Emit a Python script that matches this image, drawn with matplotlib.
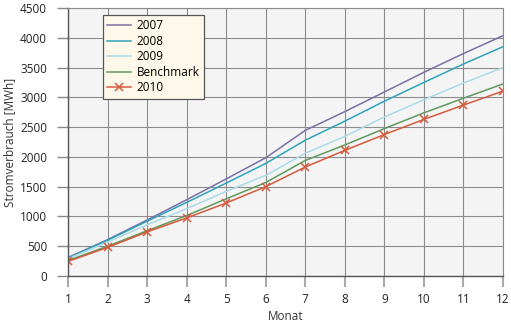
import matplotlib
matplotlib.use("Agg")
import matplotlib.pyplot as plt
import numpy as np

### data
monate = [1, 2, 3, 4, 5, 6, 7, 8, 9, 10, 11, 12]
v2007 = [310, 610, 940, 1280, 1630, 1985, 2445, 2760, 3090, 3420, 3735, 4035]
v2008 = [300, 600, 920, 1235, 1560, 1890, 2280, 2600, 2935, 3250, 3560, 3850]
v2009 = [290, 570, 860, 1130, 1420, 1690, 2060, 2345, 2670, 2960, 3240, 3500]
benchmark = [260, 500, 760, 1015, 1295, 1570, 1940, 2200, 2475, 2740, 2985, 3225]
v2010 = [245, 480, 740, 975, 1225, 1500, 1830, 2110, 2375, 2630, 2870, 3105]

### style
plt.rcParams['font.family'] = ['Open Sans', 'DejaVu Sans']
plt.rcParams['font.size'] = 8.5

fig = plt.figure(figsize=(5.11, 3.23), dpi=100)
ax = fig.add_axes([68/511, 47/323, 435/511, 268/323])
ax.set_facecolor('#f4f4f4')

ax.plot(monate, v2007, color='#7b6fa8', lw=1.1, label='2007')
ax.plot(monate, v2008, color='#2ea4b8', lw=1.1, label='2008')
ax.plot(monate, v2009, color='#a9dbe8', lw=1.1, label='2009')
ax.plot(monate, benchmark, color='#5f9a5f', lw=1.1, label='Benchmark')
ax.plot(monate, v2010, color='#d65a3c', lw=1.1, marker='x', ms=6, mew=1.1, label='2010')

ax.set_xlim(1, 12)
ax.set_ylim(0, 4500)
ax.set_xticks(monate)
ax.set_yticks(np.arange(0, 4501, 500))
ax.grid(True, color='#8c8c8c', lw=0.8)
ax.set_axisbelow(True)

for s in ['top', 'right']:
    ax.spines[s].set_color('#8c8c8c')
    ax.spines[s].set_linewidth(0.8)
for s in ['left', 'bottom']:
    ax.spines[s].set_color('#555555')
    ax.spines[s].set_linewidth(1.0)

ax.tick_params(axis='y', length=8, width=1.0, color='#888888', pad=7, labelcolor='#222222')
ax.tick_params(axis='x', length=8, width=1.5, color='#aaaaaa', pad=4, labelcolor='#222222')

ax.set_xlabel('Monat', fontsize=8.5, color='#333333', labelpad=3)
ax.set_ylabel('Stromverbrauch [MWh]', fontsize=8.5, color='#333333', va='center')
ax.yaxis.set_label_coords(-0.135, 0.5)

leg = ax.legend(loc='upper left', bbox_to_anchor=(0.08, 0.974), borderaxespad=0,
                fancybox=False, framealpha=1, facecolor='#fdf8e9', edgecolor='#555555',
                fontsize=8.5, handlelength=2.0, handletextpad=0.5,
                labelspacing=0.22, borderpad=0.35)
leg.get_frame().set_linewidth(0.9)

fig.savefig('out.png', dpi=100)
